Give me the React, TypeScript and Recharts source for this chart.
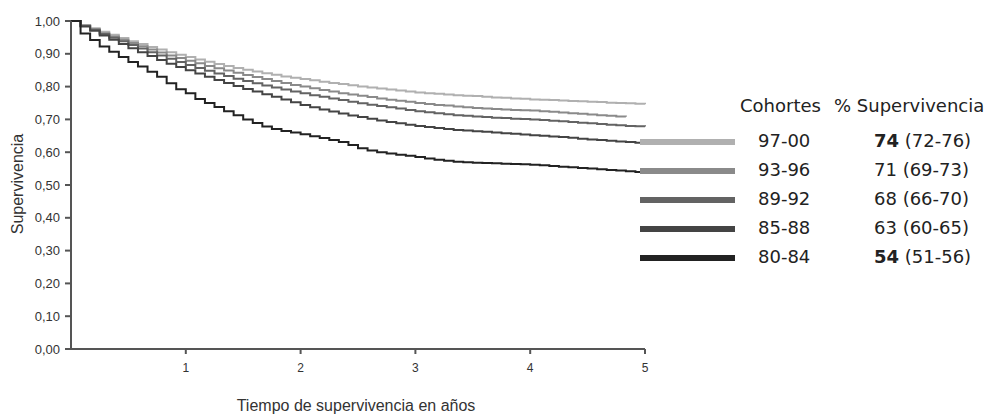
import { LineChart, Line, XAxis, YAxis } from 'recharts';

// months since diagnosis (0..60), axis shows years
const months = [
  0, 1, 2, 3, 4, 5, 6, 7, 8, 9, 10, 11, 12, 13, 14, 15, 16, 17, 18, 19, 20,
  21, 22, 23, 24, 25, 26, 27, 28, 29, 30, 31, 32, 33, 34, 35, 36, 37, 38, 39, 40,
  41, 42, 43, 44, 45, 46, 47, 48, 49, 50, 51, 52, 53, 54, 55, 56, 57, 58, 59, 60,
];

const c9700 = [
  1.0, 0.988, 0.978, 0.967, 0.958, 0.948, 0.938, 0.93, 0.921, 0.913, 0.905, 0.897, 0.89,
  0.883, 0.876, 0.869, 0.863, 0.857, 0.851, 0.846, 0.841, 0.836, 0.831, 0.827, 0.823,
  0.819, 0.815, 0.811, 0.808, 0.804, 0.8, 0.797, 0.794, 0.791, 0.788, 0.785, 0.782,
  0.78, 0.778, 0.776, 0.774, 0.772, 0.771, 0.769, 0.767, 0.766, 0.764, 0.763, 0.761,
  0.76, 0.759, 0.758, 0.756, 0.755, 0.754, 0.753, 0.751, 0.75, 0.749, 0.748, 0.746,
];
const c9396 = [
  1.0, 0.986, 0.975, 0.963, 0.953, 0.943, 0.933, 0.923, 0.913, 0.904, 0.895, 0.887, 0.879,
  0.871, 0.863, 0.856, 0.849, 0.842, 0.835, 0.829, 0.823, 0.817, 0.811, 0.805, 0.8,
  0.795, 0.79, 0.785, 0.78, 0.776, 0.772, 0.768, 0.764, 0.76, 0.757, 0.754, 0.75,
  0.747, 0.744, 0.742, 0.739, 0.737, 0.735, 0.733, 0.732, 0.73, 0.729, 0.728, 0.727,
  0.725, 0.723, 0.721, 0.719, 0.717, 0.715, 0.713, 0.711, 0.709, 0.708, null, null,
];
const c8992 = [
  1.0, 0.985, 0.973, 0.96, 0.949, 0.938, 0.927, 0.916, 0.905, 0.895, 0.885, 0.875, 0.866,
  0.857, 0.848, 0.84, 0.832, 0.824, 0.817, 0.81, 0.803, 0.797, 0.791, 0.785, 0.78,
  0.774, 0.769, 0.764, 0.759, 0.754, 0.749, 0.745, 0.741, 0.737, 0.733, 0.729, 0.725,
  0.722, 0.719, 0.716, 0.713, 0.711, 0.709, 0.707, 0.705, 0.704, 0.702, 0.701, 0.7,
  0.698, 0.696, 0.694, 0.692, 0.69, 0.688, 0.686, 0.684, 0.682, 0.68, 0.679, 0.678,
];
const c8588 = [
  1.0, 0.983, 0.97, 0.956, 0.943, 0.93, 0.917, 0.905, 0.893, 0.881, 0.87, 0.86, 0.85,
  0.84, 0.83, 0.82, 0.811, 0.802, 0.793, 0.785, 0.777, 0.769, 0.761, 0.752, 0.744,
  0.737, 0.73, 0.724, 0.718, 0.712, 0.707, 0.702, 0.697, 0.692, 0.688, 0.684, 0.68,
  0.677, 0.674, 0.671, 0.668, 0.666, 0.664, 0.662, 0.66, 0.658, 0.656, 0.654, 0.652,
  0.65, 0.648, 0.646, 0.644, 0.641, 0.639, 0.637, 0.635, 0.633, 0.631, 0.629, 0.627,
];
const c8084 = [
  1.0, 0.962, 0.942, 0.922, 0.906, 0.89, 0.875, 0.861, 0.845, 0.83, 0.81, 0.792, 0.78,
  0.762, 0.75, 0.738, 0.725, 0.713, 0.7, 0.689, 0.678, 0.671, 0.665, 0.66, 0.655,
  0.649, 0.643, 0.637, 0.631, 0.622, 0.612, 0.605, 0.6, 0.596, 0.592, 0.589, 0.585,
  0.581, 0.577, 0.574, 0.571, 0.569, 0.568, 0.567, 0.566, 0.565, 0.564, 0.563, 0.562,
  0.56, 0.558, 0.556, 0.554, 0.552, 0.55, 0.548, 0.546, 0.544, 0.542, 0.54, 0.539,
];

const cohorts = ['97-00', '93-96', '89-92', '85-88', '80-84'];
const colors = ['#b0b0b0', '#8a8a8a', '#636363', '#444444', '#222222'];
const pctMain = ['74', '71', '68', '63', '54'];
const pctCI = ['(72-76)', '(69-73)', '(66-70)', '(60-65)', '(51-56)'];
const boldPct = [true, false, false, false, true];

const yTicks = [0, 0.1, 0.2, 0.3, 0.4, 0.5, 0.6, 0.7, 0.8, 0.9, 1.0];
const xTicks = [12, 24, 36, 48, 60];

const series = [c9700, c9396, c8992, c8588, c8084];
const data = months.map((m, i) => {
  const row: Record<string, number | null> = { month: m };
  cohorts.forEach((c, k) => {
    row[c] = series[k][i];
  });
  return row;
});

const axisFont = 'Liberation Sans, Arial, sans-serif';
const legendFont = '"DejaVu Sans", sans-serif';

const legendText = {
  position: 'absolute' as const,
  fontFamily: legendFont,
  fontSize: 18,
  color: '#222',
  whiteSpace: 'nowrap' as const,
};

export default function App() {
  return (
    <div style={{ position: 'absolute', left: 0, top: 0, width: 994, height: 416, background: '#fff' }}>
      <LineChart
        width={994}
        height={416}
        data={data}
        margin={{ top: 21, right: 349, bottom: 37, left: 11 }}
      >
        <XAxis
          dataKey="month"
          type="number"
          domain={[0, 60]}
          ticks={xTicks}
          tickFormatter={(v: number) => `${v / 12}`}
          stroke="#555"
          strokeWidth={2}
          tickSize={5}
          tickMargin={9}
          height={30}
          tick={{ fill: '#333', fontSize: 12, fontFamily: axisFont }}
        />
        <YAxis
          type="number"
          domain={[0, 1]}
          ticks={yTicks}
          interval={0}
          tickFormatter={(v: number) => v.toFixed(2).replace('.', ',')}
          stroke="#555"
          strokeWidth={2}
          tickSize={6}
          tickMargin={5}
          width={60}
          tick={{ fill: '#333', fontSize: 13, fontFamily: axisFont }}
        />
        {cohorts.map((c, k) => (
          <Line
            key={c}
            dataKey={c}
            type="stepAfter"
            stroke={colors[k]}
            strokeWidth={2}
            dot={false}
            activeDot={false}
            connectNulls={false}
            isAnimationActive={false}
          />
        ))}
      </LineChart>
      <div
        style={{
          position: 'absolute',
          left: 18,
          top: 184,
          transform: 'translate(-50%, -50%) rotate(-90deg)',
          fontFamily: axisFont,
          fontSize: 16,
          color: '#333',
          whiteSpace: 'nowrap',
        }}
      >
        Supervivencia
      </div>
      <div
        style={{
          position: 'absolute',
          left: 356,
          top: 406,
          transform: 'translate(-50%, -50%)',
          fontFamily: axisFont,
          fontSize: 16,
          lineHeight: 1.1,
          color: '#333',
          whiteSpace: 'nowrap',
        }}
      >
        Tiempo de supervivencia en años
      </div>
      <div style={{ ...legendText, left: 740, top: 95 }}>Cohortes</div>
      <div style={{ ...legendText, left: 834, top: 95 }}>% Supervivencia</div>
      {cohorts.map((c, k) => (
        <div key={c}>
          <div
            style={{
              position: 'absolute',
              left: 640,
              top: 139 + k * 29,
              width: 95,
              height: 6,
              background: colors[k],
            }}
          />
          <div style={{ ...legendText, left: 758, top: 130 + k * 29 }}>{c}</div>
          <div style={{ ...legendText, left: 874, top: 130 + k * 29 }}>
            <span style={{ fontWeight: boldPct[k] ? 700 : 400 }}>{pctMain[k]}</span> {pctCI[k]}
          </div>
        </div>
      ))}
    </div>
  );
}
